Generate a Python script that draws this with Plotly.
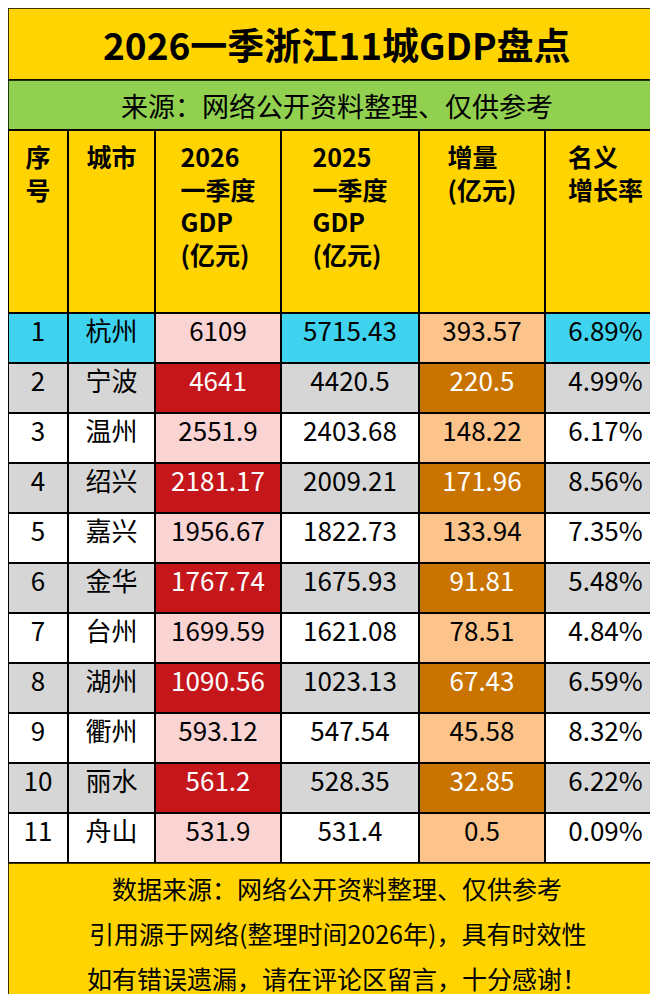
import plotly.graph_objects as go

seq = [str(i) for i in range(1, 12)]
cities = ["杭州","宁波","温州","绍兴","嘉兴","金华","台州","湖州","衢州","丽水","舟山"]
gdp2026 = ["6109","4641","2551.9","2181.17","1956.67","1767.74","1699.59","1090.56","593.12","561.2","531.9"]
gdp2025 = ["5715.43","4420.5","2403.68","2009.21","1822.73","1675.93","1621.08","1023.13","547.54","528.35","531.4"]
incr = ["393.57","220.5","148.22","171.96","133.94","91.81","78.51","67.43","45.58","32.85","0.5"]
rate = ["6.89%","4.99%","6.17%","8.56%","7.35%","5.48%","4.84%","6.59%","8.32%","6.22%","0.09%"]
headers = ["序<br>号","城市","2026<br>一季度<br>GDP<br>(亿元)","2025<br>一季度<br>GDP<br>(亿元)","增量<br>(亿元)","名义<br>增长率"]
title = "2026一季浙江11城GDP盘点"
subtitle = "来源：网络公开资料整理、仅供参考"
footer = ["数据来源：网络公开资料整理、仅供参考","引用源于网络(整理时间2026年)，具有时效性","如有错误遗漏，请在评论区留言，十分感谢！"]

YEL = "#FFD400"; GRN = "#92D050"; CYAN = "#3FD3F0"; GRAY = "#D6D6D6"
PINK = "#FAD3D3"; RED = "#C5161C"; LOR = "#FCC48A"; DOR = "#C97400"

n = len(seq)
def plain(i):
    return CYAN if i == 0 else (GRAY if i % 2 == 1 else "white")
fill_plain = [plain(i) for i in range(n)]
fill_26 = [RED if i % 2 == 1 else PINK for i in range(n)]
fill_inc = [DOR if i % 2 == 1 else LOR for i in range(n)]
col_26 = ["white" if i % 2 == 1 else "black" for i in range(n)]
fills = [fill_plain, fill_plain, fill_26, fill_plain, fill_inc, fill_plain]
fcols = [["black"]*n, ["black"]*n, col_26, ["black"]*n, col_26, ["black"]*n]

def vcenter(h):
    lines = h.count("<br>") + 1
    pad = {1: "<br><br>", 2: "<br>"}.get(lines, "")
    return pad + "<b>%s</b>" % h

W, H = 658, 994
FONT = "Noto Sans CJK SC"
fig = go.Figure(go.Table(
    domain=dict(x=[0, 1], y=[1 - 855/H, 1 - 122/H]),
    columnwidth=[60, 87, 126, 138, 126, 121],
    header=dict(values=[vcenter(h) for h in headers], height=183,
                fill_color=YEL, line=dict(color="black", width=1.5),
                align="center", font=dict(family=FONT, size=25, color="black")),
    cells=dict(values=[seq, cities, gdp2026, gdp2025, incr, rate], height=50,
               fill_color=fills, line=dict(color="black", width=1.5),
               align="center", font=dict(family=FONT, size=26, color=fcols)),
))
shapes = [
    dict(type="rect", xref="paper", yref="paper", x0=0, x1=1, y0=1-72/H, y1=1, fillcolor=YEL, line=dict(color="black", width=1.5), layer="below"),
    dict(type="rect", xref="paper", yref="paper", x0=0, x1=1, y0=1-122/H, y1=1-72/H, fillcolor=GRN, line=dict(color="black", width=1.5), layer="below"),
    dict(type="rect", xref="paper", yref="paper", x0=0, x1=1, y0=0, y1=1-855/H, fillcolor=YEL, line=dict(color="black", width=1.5), layer="below"),
]
ann = [
    dict(text="<b>%s</b>" % title, x=0.5, y=1-36/H, font=dict(family=FONT, size=37, color="black")),
    dict(text=subtitle, x=0.5, y=1-97/H, font=dict(family=FONT, size=27, color="black")),
]
for k, t in enumerate(footer):
    ann.append(dict(text=t, x=0.5, y=1-(880+k*45)/H, font=dict(family=FONT, size=25, color="black")))
for a in ann:
    a.update(xref="paper", yref="paper", showarrow=False, xanchor="center", yanchor="middle")
fig.update_layout(width=W, height=H, margin=dict(l=0, r=0, t=0, b=0),
                  paper_bgcolor="white", shapes=shapes, annotations=ann)
fig.write_html("out.html")
